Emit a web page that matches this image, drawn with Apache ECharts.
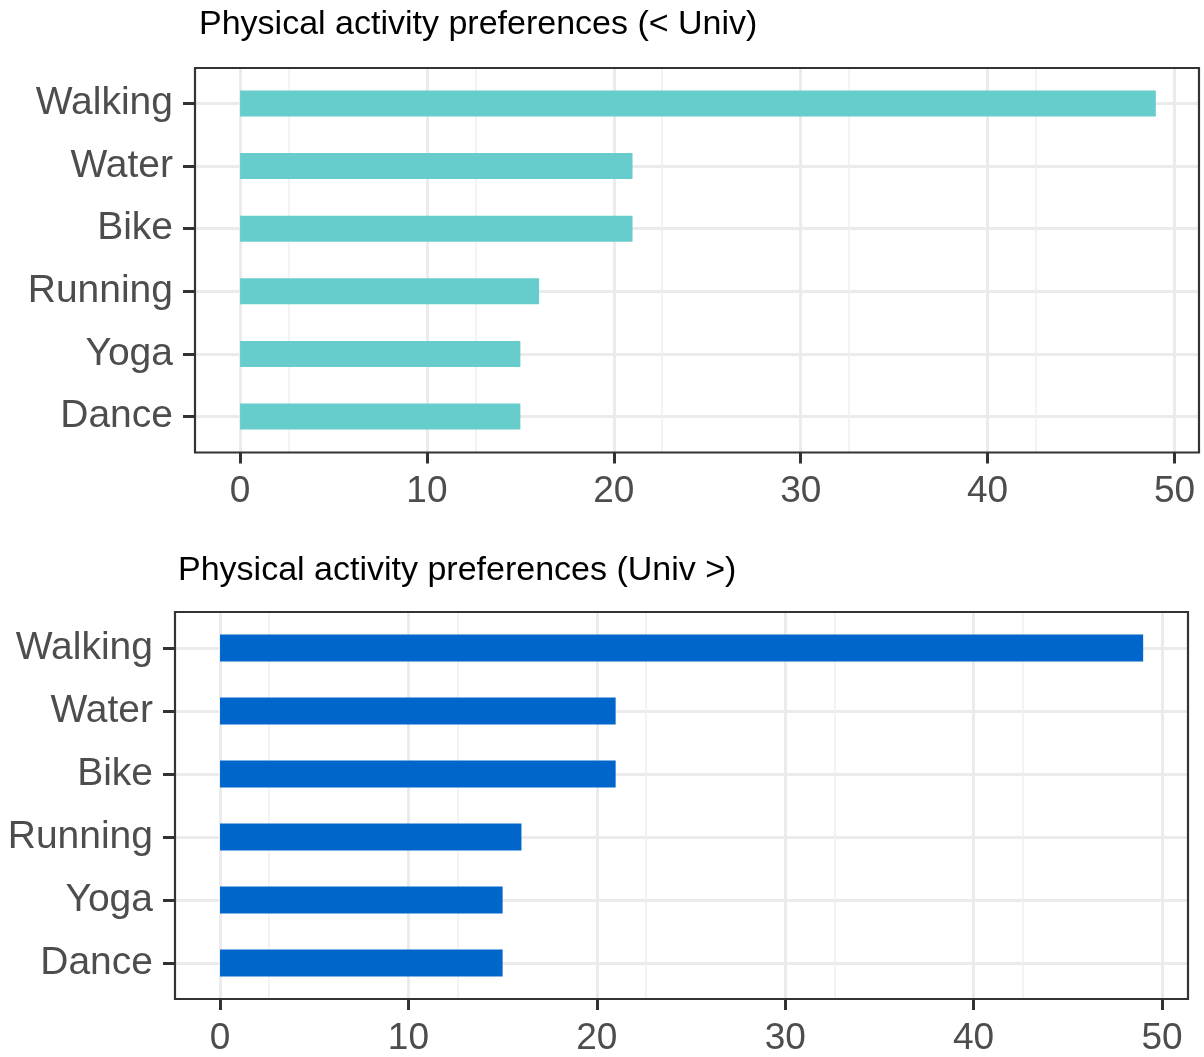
<!DOCTYPE html>
<html><head><meta charset="utf-8">
<script src="https://cdn.jsdelivr.net/npm/echarts@6/dist/echarts.min.js"></script>
<style>html,body{margin:0;padding:0;background:#fff}#c{width:1204px;height:1057px}</style>
</head><body><div id="c"></div>
<script>
const categories = ["Walking", "Water", "Bike", "Running", "Yoga", "Dance"];
const valuesBelowUniv = [49, 21, 21, 16, 15, 15];
const valuesAboveUniv = [49, 21, 21, 16, 15, 15];
const titles = ["Physical activity preferences (< Univ)", "Physical activity preferences (Univ >)"];
const xTicks = [0, 10, 20, 30, 40, 50];

const FONT = "Liberation Sans, Arial, sans-serif";
const chart = echarts.init(document.getElementById('c'), null, {renderer: 'canvas'});

function panel(p) {
  const grids = [
    {left: p.left, width: p.width, top: p.top, height: p.height, show: true, borderColor: '#333', borderWidth: 2.2, backgroundColor: 'transparent', z: 5},
    {left: p.left, width: p.width, top: p.catTop, height: p.catHeight, show: false}
  ];
  const xAxes = [
    {gridIndex: p.g, type: 'value', min: p.min, max: p.max, interval: 10, position: 'bottom',
     axisLine: {show: false, onZero: false},
     axisTick: {show: true, length: 11, lineStyle: {color: '#333', width: 3}, customValues: xTicks},
     axisLabel: {color: '#4d4d4d', fontSize: 37, fontFamily: FONT, margin: 21, customValues: xTicks},
     splitLine: {show: true, lineStyle: {color: '#ebebeb', width: 3}},
     minorTick: {show: false, splitNumber: 2},
     minorSplitLine: {show: true, lineStyle: {color: '#f0f0f0', width: 1.6}}
    },
    {gridIndex: p.g + 1, type: 'value', min: p.min, max: p.max, show: false, splitLine: {show: false}}
  ];
  const yAxes = [
    {gridIndex: p.g, type: 'value', show: false, splitLine: {show: false}},
    {gridIndex: p.g + 1, type: 'category', data: categories, inverse: true, boundaryGap: false, position: 'left',
     axisLine: {show: false, onZero: false},
     axisTick: {show: true, length: 12, alignWithLabel: true, lineStyle: {color: '#333', width: 3}},
     axisLabel: {color: '#4d4d4d', fontSize: 39, fontFamily: FONT, margin: 22},
     splitLine: {show: true, lineStyle: {color: '#ebebeb', width: 3}}
    }
  ];
  const series = [{
    type: 'bar', xAxisIndex: p.g + 1, yAxisIndex: p.g + 1, data: p.values,
    barWidth: p.barWidth, clip: false, itemStyle: {color: p.color}, z: 3, silent: true
  }];
  const title = {text: p.title, left: p.titleLeft, top: p.titleTop,
    textStyle: {fontSize: 34, fontWeight: 'normal', color: '#000', fontFamily: FONT}};
  return {grids, xAxes, yAxes, series, title};
}

const a = panel({g: 0, left: 195, width: 1004, top: 68, height: 384.5, catTop: 103.5, catHeight: 313,
  min: -2.41, max: 51.31, values: valuesBelowUniv, barWidth: 26, color: '#66CDCC',
  title: titles[0], titleLeft: 194, titleTop: 3});
const b = panel({g: 2, left: 175, width: 1013, top: 612, height: 388, catTop: 648, catHeight: 315,
  min: -2.39, max: 51.38, values: valuesAboveUniv, barWidth: 27, color: '#0066CC',
  title: titles[1], titleLeft: 173, titleTop: 549});

chart.setOption({
  animation: false,
  backgroundColor: '#fff',
  title: [a.title, b.title],
  grid: [...a.grids, ...b.grids],
  xAxis: [...a.xAxes, ...b.xAxes],
  yAxis: [...a.yAxes, ...b.yAxes],
  series: [...a.series, ...b.series]
});
</script></body></html>
